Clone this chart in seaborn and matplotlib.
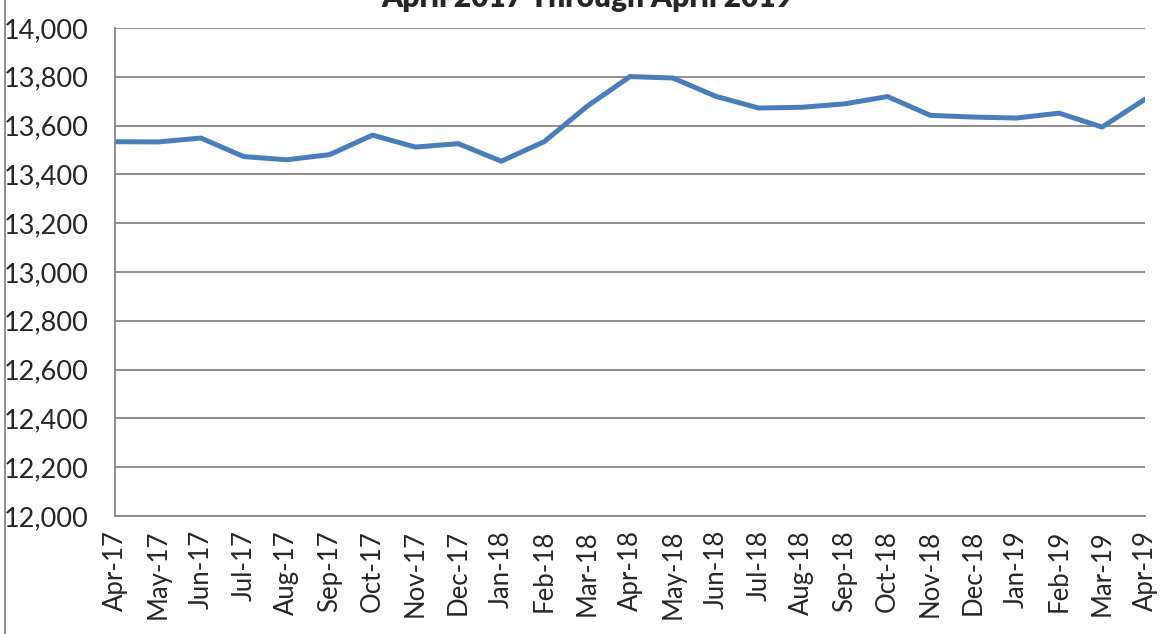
import pandas as pd
import seaborn as sns
import matplotlib.pyplot as plt
from matplotlib.lines import Line2D

#monthly labels and values
months = ["Apr-17", "May-17", "Jun-17", "Jul-17", "Aug-17", "Sep-17", "Oct-17", "Nov-17",
          "Dec-17", "Jan-18", "Feb-18", "Mar-18", "Apr-18", "May-18", "Jun-18", "Jul-18",
          "Aug-18", "Sep-18", "Oct-18", "Nov-18", "Dec-18", "Jan-19", "Feb-19", "Mar-19", "Apr-19"]
values = [13534, 13533, 13549, 13473, 13460, 13481, 13561, 13512, 13526, 13454, 13534, 13679,
          13801, 13795, 13720, 13672, 13675, 13689, 13719, 13642, 13635, 13631, 13651, 13594, 13708]
y_ticks = list(range(12000, 14001, 200))
title = "April 2017 Through April 2019"

df = pd.DataFrame({"idx": range(len(months)), "month": months, "value": values})

sns.set_style("white")
plt.rcParams['font.family'] = ['Lato', 'DejaVu Sans']

fig = plt.figure(figsize=(11.75, 6.34), dpi=100)
ax = fig.add_axes([115 / 1175, 1 - 516 / 634, (1145 - 115) / 1175, (516 - 28) / 634])

sns.lineplot(data=df, x="idx", y="value", ax=ax, color="#4A7EBB", linewidth=3.6,
             solid_capstyle="round", solid_joinstyle="round")

ax.set_xlim(0, len(months) - 1)
ax.set_ylim(12000, 14000)
ax.set_yticks(y_ticks)
ax.set_yticklabels([f"{v:,}" for v in y_ticks], fontsize=19.5)
ax.set_xticks(df["idx"])
ax.set_xticklabels(months, rotation=90, fontsize=18.5)
ax.tick_params(axis="y", length=0, pad=19)
ax.tick_params(axis="x", length=0, pad=10)
ax.set_xlabel("")
ax.set_ylabel("")

ax.yaxis.grid(True, color="#868686", linewidth=1.3)
ax.set_axisbelow(True)
for s in ["top", "right"]:
    ax.spines[s].set_visible(False)
for s in ["left", "bottom"]:
    ax.spines[s].set_color("#868686")
    ax.spines[s].set_linewidth(1.3)

#title is cut off at the top in the original
fig.text(0.5, 1 - 7 / 634, title, ha="center", va="baseline", fontsize=21.5, fontweight="heavy")

#chart frame on the left edge
fig.add_artist(Line2D([5 / 1175, 5 / 1175], [0, 1], color="#868686", linewidth=1.3))

fig.savefig("out.png", dpi=100)
